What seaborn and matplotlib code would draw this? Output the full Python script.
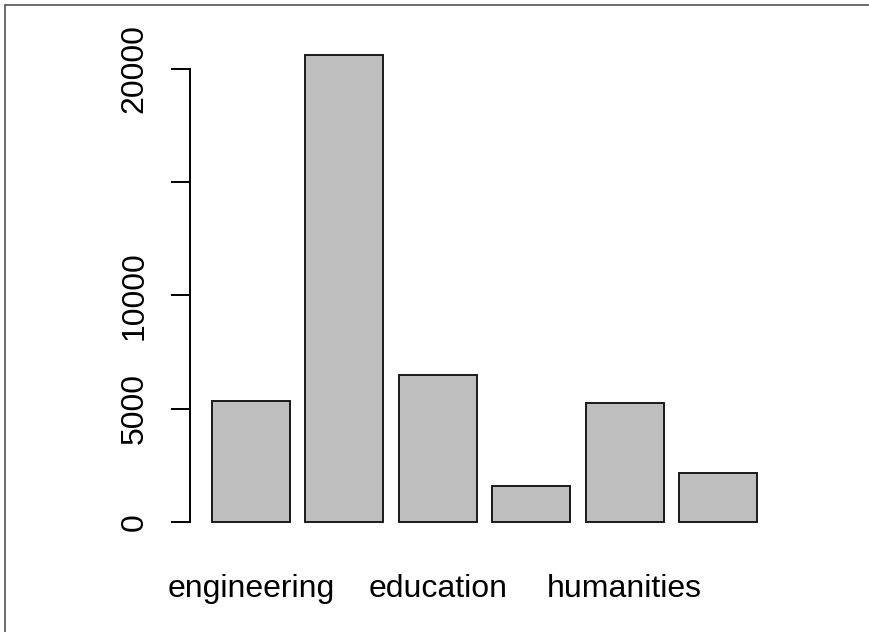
import matplotlib
matplotlib.use("Agg")
import matplotlib.pyplot as plt
import matplotlib.ticker as mticker
from matplotlib.lines import Line2D
import pandas as pd
import seaborn as sns

# values (base-R style barplot)
majors = ["engineering", "business", "education", "arts", "humanities", "sciences"]
counts = [5320, 20630, 6470, 1610, 5240, 2160]
# R drops labels that would overlap, so only every other one shows
shown_labels = ["engineering", "", "education", "", "humanities", ""]
y_ticks = [0, 5000, 10000, 15000, 20000]
y_tick_labels = ["0", "5000", "10000", "", "20000"]

sns.set_theme(style="white")
plt.rcParams["font.family"] = ["Liberation Sans", "DejaVu Sans"]

df = pd.DataFrame({"major": majors, "count": counts})

fig = plt.figure(figsize=(8.69, 6.32), dpi=100)
ax = fig.add_axes([0.2189, 0.1445, 0.6773, 0.7986])

sns.barplot(data=df, x="major", y="count", color="#BEBEBE", width=1 / 1.2,
            saturation=1, edgecolor="#1a1a1a", linewidth=1.4, ax=ax)

top = max(counts)
ax.set_ylim(-0.04 * top, 1.04 * top)
ax.set_xlim(-0.65, len(majors) - 0.35)

for side in ["top", "right", "bottom"]:
    ax.spines[side].set_visible(False)
ax.spines["left"].set_bounds(0, 20000)
ax.spines["left"].set_color("black")
ax.spines["left"].set_linewidth(1.4)

ax.yaxis.set_major_locator(mticker.FixedLocator(y_ticks))
ax.yaxis.set_major_formatter(mticker.FixedFormatter(y_tick_labels))
ax.tick_params(axis="y", left=True, length=13.5, width=1.4, color="black",
               pad=16, labelsize=23, labelcolor="black")
for lbl in ax.get_yticklabels():
    lbl.set_rotation(90)
    lbl.set_va("center")

ax.set_xticks(range(len(majors)))
ax.set_xticklabels(shown_labels)
ax.tick_params(axis="x", bottom=False, pad=18, labelsize=23, labelcolor="black")

ax.set_xlabel("")
ax.set_ylabel("")
ax.grid(False)

# thin frame line along top and left edge of the image
fig.add_artist(Line2D([0.006, 1.0], [0.9925, 0.9925], transform=fig.transFigure,
                      color="#555555", linewidth=1.2))
fig.add_artist(Line2D([0.006, 0.006], [0.0, 0.9925], transform=fig.transFigure,
                      color="#555555", linewidth=1.2))

fig.savefig("out.png", dpi=100)
plt.close(fig)
